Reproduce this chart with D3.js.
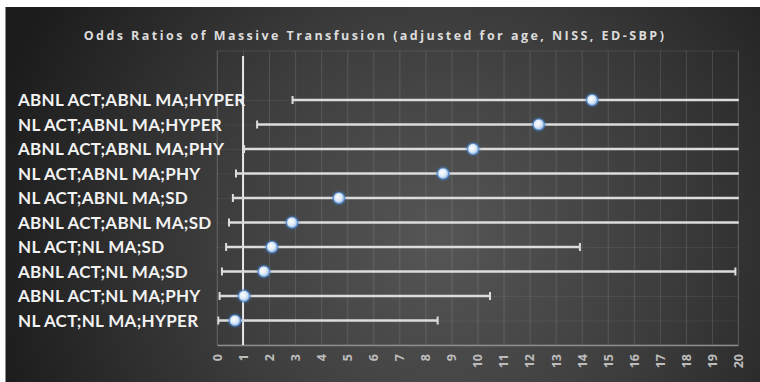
<!DOCTYPE html>
<html><head><meta charset="utf-8">
<script src="https://cdn.jsdelivr.net/npm/d3@7"></script>
<style>html,body{margin:0;padding:0;background:#fff;}svg{display:block;}</style>
</head><body>
<svg id="chart" width="760" height="382"></svg>
<script>
const categories = [
  "ABNL ACT;ABNL MA;HYPER",
  "NL ACT;ABNL MA;HYPER",
  "ABNL ACT;ABNL MA;PHY",
  "NL ACT;ABNL MA;PHY",
  "NL ACT;ABNL MA;SD",
  "ABNL ACT;ABNL MA;SD",
  "NL ACT;NL MA;SD",
  "ABNL ACT;NL MA;SD",
  "ABNL ACT;NL MA;PHY",
  "NL ACT;NL MA;HYPER"
];
const oddsRatio = [14.4, 12.35, 9.83, 8.68, 4.68, 2.88, 2.11, 1.8, 1.04, 0.69];
const lowerCI   = [2.9, 1.54, 1.04, 0.73, 0.61, 0.46, 0.35, 0.19, 0.1, 0.05];
const upperCI   = [40, 40, 40, 40, 40, 40, 13.93, 19.9, 10.48, 8.47];
const xTicks = d3.range(0, 21, 1);
const title = "Odds Ratios of Massive Transfusion (adjusted for age, NISS, ED-SBP)";

const svg = d3.select("#chart");
const defs = svg.append("defs");
const bg = defs.append("radialGradient").attr("id","bg").attr("gradientUnits","userSpaceOnUse")
  .attr("cx",440).attr("cy",240).attr("r",460);
bg.append("stop").attr("offset","0%").attr("stop-color","#565656");
bg.append("stop").attr("offset","50%").attr("stop-color","#3c3c3c");
bg.append("stop").attr("offset","100%").attr("stop-color","#1c1c1c");
const mk = defs.append("radialGradient").attr("id","mk").attr("cx","40%").attr("cy","40%").attr("r","60%");
mk.append("stop").attr("offset","0%").attr("stop-color","#ffffff");
mk.append("stop").attr("offset","60%").attr("stop-color","#dbe8f6");
mk.append("stop").attr("offset","100%").attr("stop-color","#9fbfe3");
const glow = defs.append("filter").attr("id","glow").attr("x","-60%").attr("y","-60%").attr("width","220%").attr("height","220%");
glow.append("feDropShadow").attr("dx",0).attr("dy",0).attr("stdDeviation",1.6).attr("flood-color","#3d78c0").attr("flood-opacity",0.9);
const clip = defs.append("clipPath").attr("id","plotclip");

// background
svg.append("rect").attr("x",5).attr("y",7).attr("width",755).attr("height",375).attr("fill","url(#bg)");
svg.append("line").attr("x1",5.5).attr("x2",5.5).attr("y1",7).attr("y2",382).attr("stroke","#8a8a8a").attr("stroke-width",1);

const x = d3.scaleLinear().domain([0,20]).range([217,738]);
const y = d3.scaleLinear().domain([0,12]).range([345,51]);
const rowVal = i => categories.length - i;

clip.append("rect").attr("x",x(0)).attr("y",y(12)).attr("width",x(20)-x(0)+2).attr("height",y(0)-y(12));

// plot area
svg.append("rect").attr("x",x(0)).attr("y",y(12)).attr("width",x(20)-x(0)).attr("height",y(0)-y(12))
  .attr("fill","none").attr("stroke","rgba(255,255,255,0.10)");
// vertical gridlines
svg.append("g").selectAll("line").data(xTicks).join("line")
  .attr("x1",d=>x(d)+0.5).attr("x2",d=>x(d)+0.5).attr("y1",y(12)).attr("y2",y(0))
  .attr("stroke","rgba(255,255,255,0.13)").attr("stroke-width",1);
// horizontal gridlines at rows
svg.append("g").selectAll("line").data(categories).join("line")
  .attr("x1",x(0)).attr("x2",x(20)).attr("y1",(d,i)=>y(rowVal(i))+0.5).attr("y2",(d,i)=>y(rowVal(i))+0.5)
  .attr("stroke","rgba(255,255,255,0.06)");

// bottom axis
const xAxis = d3.axisBottom(x).tickValues(xTicks).tickSize(0).tickFormat(d3.format("d"));
const ax = svg.append("g").attr("transform",`translate(0,${y(0)})`).call(xAxis);
ax.select(".domain").attr("stroke","#8c8c8c").attr("stroke-width",1.5);
ax.selectAll("text")
  .attr("transform","rotate(-90)").attr("x",-9).attr("y",0).attr("dy","0.35em")
  .attr("text-anchor","end").attr("fill","#bdbdbd").attr("font-family","'Open Sans', sans-serif")
  .attr("font-size",12.5).attr("font-weight","bold");

// reference line at OR=1
svg.append("line").attr("x1",x(1)).attr("x2",x(1)).attr("y1",y(11.8)).attr("y2",y(0))
  .attr("stroke","#e8e8e8").attr("stroke-width",2);

// error bars
const eb = svg.append("g").attr("clip-path","url(#plotclip)");
eb.selectAll("line.bar").data(categories).join("line").attr("class","bar")
  .attr("x1",(d,i)=>x(lowerCI[i])).attr("x2",(d,i)=>x(Math.min(upperCI[i],20.03)))
  .attr("y1",(d,i)=>y(rowVal(i))).attr("y2",(d,i)=>y(rowVal(i)))
  .attr("stroke","#dcdcdc").attr("stroke-width",2.5);
const caps = [];
categories.forEach((c,i)=>{ caps.push({i,v:lowerCI[i]}); if (upperCI[i] <= 20) caps.push({i,v:upperCI[i]}); });
eb.selectAll("line.cap").data(caps).join("line").attr("class","cap")
  .attr("x1",d=>x(d.v)).attr("x2",d=>x(d.v))
  .attr("y1",d=>y(rowVal(d.i))-4).attr("y2",d=>y(rowVal(d.i))+4)
  .attr("stroke","#dcdcdc").attr("stroke-width",2);

// markers
svg.append("g").selectAll("circle").data(categories).join("circle")
  .attr("cx",(d,i)=>x(oddsRatio[i])).attr("cy",(d,i)=>y(rowVal(i))).attr("r",5.5)
  .attr("fill","url(#mk)").attr("stroke","#5b8fcf").attr("stroke-width",1.2).attr("filter","url(#glow)");

// category labels
svg.append("g").selectAll("text").data(categories).join("text")
  .attr("x",18).attr("y",(d,i)=>y(rowVal(i))).attr("dy","0.36em")
  .attr("fill","#f2f2f2").attr("font-family","Lato, 'Open Sans', sans-serif").attr("font-weight","bold")
  .attr("font-size",17).attr("letter-spacing","0.3px").text(d=>d);

// title
svg.append("text").attr("x",375).attr("y",40).attr("text-anchor","middle")
  .attr("fill","#dcdcdc").attr("font-family","'Open Sans', sans-serif").attr("font-weight","bold")
  .attr("font-size",12.5).attr("letter-spacing","2.45px").text(title);
</script>
</body></html>
